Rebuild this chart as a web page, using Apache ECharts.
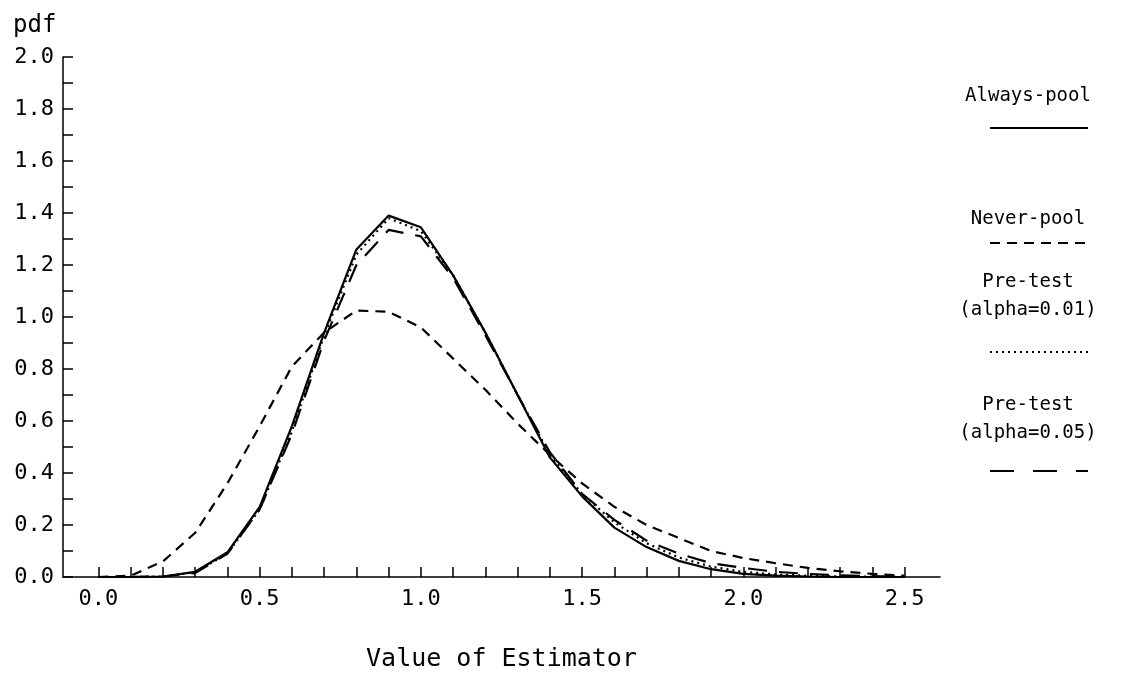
<!DOCTYPE html>
<html>
<head>
<meta charset="utf-8">
<title>pdf of estimators</title>
<script src="https://cdn.jsdelivr.net/npm/echarts@6/dist/echarts.min.js"></script>
<style>
  html, body { margin: 0; padding: 0; background: #fff; }
  #chart { width: 1132px; height: 687px; }
</style>
</head>
<body>
<div id="chart"></div>
<script>
// x positions of the plotted points (value of estimator)
const estimator = [0.0, 0.1, 0.2, 0.3, 0.4, 0.5, 0.6, 0.7, 0.8, 0.9, 1.0, 1.1, 1.2,
  1.3, 1.4, 1.5, 1.6, 1.7, 1.8, 1.9, 2.0, 2.1, 2.2, 2.3, 2.4, 2.5]

// pdf values
const alwaysPool = [0, 0, 0.002, 0.02, 0.095, 0.27, 0.58, 0.94, 1.26, 1.39, 1.345, 1.16, 0.94,
  0.70, 0.46, 0.31, 0.19, 0.115, 0.062, 0.03, 0.012, 0.005, 0.002, 0, 0, 0]
const neverPool = [0, 0.005, 0.06, 0.17, 0.36, 0.58, 0.81, 0.94, 1.025, 1.02, 0.96, 0.84, 0.72,
  0.59, 0.47, 0.36, 0.27, 0.20, 0.15, 0.10, 0.073, 0.053, 0.035, 0.022, 0.012, 0.005]
const preTest01 = [0, 0, 0.002, 0.018, 0.09, 0.26, 0.56, 0.93, 1.24, 1.38, 1.33, 1.16, 0.94,
  0.70, 0.47, 0.32, 0.21, 0.13, 0.075, 0.04, 0.02, 0.01, 0.005, 0.002, 0.001, 0]
const preTest05 = [0, 0, 0.002, 0.015, 0.09, 0.26, 0.55, 0.91, 1.20, 1.335, 1.31, 1.15, 0.93,
  0.70, 0.48, 0.32, 0.22, 0.14, 0.09, 0.053, 0.035, 0.02, 0.012, 0.006, 0.003, 0]

// tick positions / labels
const xTicks = [0.0, 0.1, 0.2, 0.3, 0.4, 0.5, 0.6, 0.7, 0.8, 0.9, 1.0, 1.1, 1.2,
  1.3, 1.4, 1.5, 1.6, 1.7, 1.8, 1.9, 2.0, 2.1, 2.2, 2.3, 2.4, 2.5]
const xLabels = [0.0, 0.5, 1.0, 1.5, 2.0, 2.5]
const yTicks = [0.0, 0.1, 0.2, 0.3, 0.4, 0.5, 0.6, 0.7, 0.8, 0.9, 1.0, 1.1, 1.2,
  1.3, 1.4, 1.5, 1.6, 1.7, 1.8, 1.9, 2.0]
const yLabels = [0.0, 0.2, 0.4, 0.6, 0.8, 1.0, 1.2, 1.4, 1.6, 1.8, 2.0]

const FONT = '"DejaVu Sans Mono", "Liberation Mono", monospace'
const INK = '#000'

const pairs = ys => estimator.map((x, i) => [x, ys[i]])

// line styles: solid / short dash / dots / long dash
const styles = {
  always: { type: 'solid' },
  never: { type: [10, 7] },
  pre01: { type: [2, 4] },
  pre05: { type: [19, 12] }
}

const makeSeries = (name, ys, st) => ({
  name,
  type: 'line',
  data: pairs(ys),
  showSymbol: false,
  smooth: false,
  silent: true,
  lineStyle: { color: INK, width: 2.2, ...st }
})

// legend on the right: text centred above a sample of the line
const legendX = 1028
const legendItems = [
  { lines: ['Always-pool'], y: 96, sample: 128, dash: null },
  { lines: ['Never-pool'], y: 219, sample: 243, dash: [10, 7] },
  { lines: ['Pre-test', '(alpha=0.01)'], y: 282, sample: 352, dash: [2, 4] },
  { lines: ['Pre-test', '(alpha=0.05)'], y: 405, sample: 471, dash: [24, 19] }
]
const graphic = []
legendItems.forEach(item => {
  item.lines.forEach((t, k) => {
    graphic.push({
      type: 'text',
      x: legendX,
      y: item.y + k * 28,
      style: {
        text: t, align: 'center', verticalAlign: 'middle',
        font: '19px ' + FONT, fill: INK
      }
    })
  })
  graphic.push({
    type: 'line',
    shape: { x1: legendX - 38, y1: item.sample, x2: legendX + 60, y2: item.sample },
    style: { stroke: INK, lineWidth: 2, lineDash: item.dash }
  })
})

const chart = echarts.init(document.getElementById('chart'), null, { renderer: 'canvas' })

const option = {
  backgroundColor: '#fff',
  animation: false,
  grid: { left: 63, right: 192, top: 57, bottom: 110, containLabel: false },
  xAxis: {
    type: 'value',
    min: -0.11,
    max: 2.61,
    name: 'Value of Estimator',
    nameLocation: 'middle',
    nameGap: 70,
    nameTextStyle: { fontFamily: FONT, fontSize: 25, color: INK },
    axisLine: { onZero: false, lineStyle: { color: INK, width: 1.5 } },
    axisTick: {
      inside: true, length: 10, customValues: xTicks,
      lineStyle: { color: INK, width: 1.5 }
    },
    axisLabel: {
      customValues: xLabels,
      formatter: v => v.toFixed(1),
      fontFamily: FONT, fontSize: 22, color: INK, margin: 11
    },
    splitLine: { show: false }
  },
  yAxis: {
    type: 'value',
    min: 0,
    max: 2,
    name: 'pdf',
    nameLocation: 'end',
    nameGap: 19,
    nameTextStyle: { fontFamily: FONT, fontSize: 24, color: INK, align: 'left', padding: [0, 0, 0, -50] },
    axisLine: { onZero: false, lineStyle: { color: INK, width: 1.5 } },
    axisTick: {
      inside: true, length: 10, customValues: yTicks,
      lineStyle: { color: INK, width: 1.5 }
    },
    axisLabel: {
      customValues: yLabels,
      formatter: v => v.toFixed(1),
      fontFamily: FONT, fontSize: 22, color: INK, margin: 9
    },
    splitLine: { show: false }
  },
  graphic,
  series: [
    makeSeries('Always-pool', alwaysPool, styles.always),
    makeSeries('Never-pool', neverPool, styles.never),
    makeSeries('Pre-test (alpha=0.01)', preTest01, styles.pre01),
    makeSeries('Pre-test (alpha=0.05)', preTest05, styles.pre05)
  ]
}

chart.setOption(option)
</script>
</body>
</html>
